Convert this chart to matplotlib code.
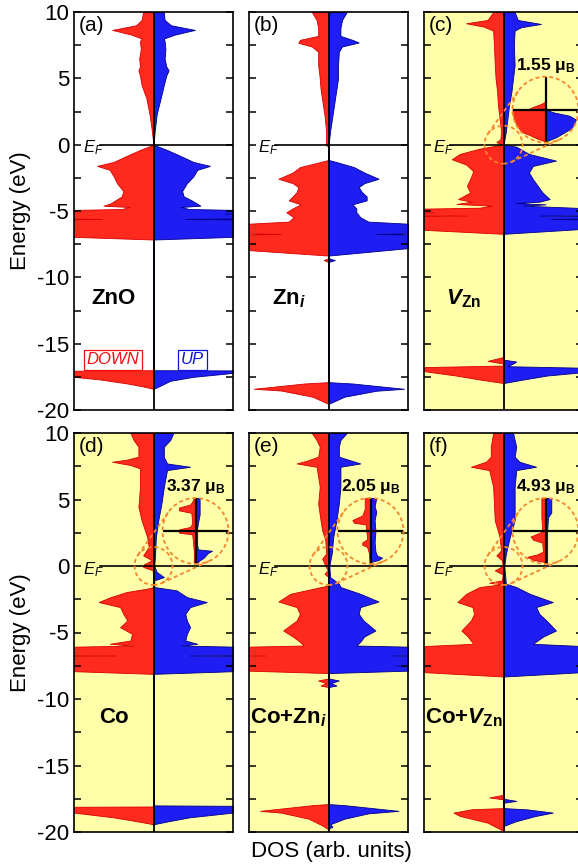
import numpy as np
import matplotlib.pyplot as plt
from matplotlib.patches import Circle
from matplotlib.lines import Line2D
from matplotlib.ticker import MultipleLocator
from matplotlib.transforms import IdentityTransform

plt.rcParams['font.family'] = ['Liberation Sans', 'DejaVu Sans']
plt.rcParams['axes.unicode_minus'] = False
plt.rcParams['mathtext.fontset'] = 'custom'
plt.rcParams['mathtext.rm'] = 'Liberation Sans'
plt.rcParams['mathtext.it'] = 'Liberation Sans:italic'
plt.rcParams['mathtext.bf'] = 'Liberation Sans:bold'
plt.rcParams['mathtext.bfit'] = 'Liberation Sans:italic:bold'

# DOS curves: (energy eV, DOS arb.) ; values > 1 run off the panel
a_dn = [(10, .13), (9.4, .15), (9.0, .22), (8.65, .52), (8.3, .28), (8.0, .15), (7.8, .17), (7.2, .16),
        (6.5, .18), (5.9, .17), (5.6, .19), (5.2, .17), (4.5, .15), (3.5, .09), (2.3, .05), (1.0, .02),
        (0.0, 0), (-0.4, .17), (-0.85, .34), (-1.3, .5), (-1.6, .71), (-1.9, .55), (-2.4, .5), (-2.9, .46),
        (-3.5, .38), (-3.9, .40), (-4.2, .48), (-4.45, .55), (-4.6, .63), (-4.7, .3), (-4.85, .4),
        (-4.95, 1.3), (-5.55, 1.3), (-5.6, .65), (-5.65, 1.3), (-6.95, 1.0), (-7.15, 0), (-17.0, 0),
        (-17.05, 1.3), (-17.45, 1.3), (-17.5, 1.0), (-17.7, .67), (-18.0, .33), (-18.2, .15), (-18.4, 0)]
a_up = [(10, .13), (9.4, .14), (9.0, .22), (8.65, .52), (8.3, .27), (8.0, .13), (7.8, .14), (7.2, .15),
        (6.5, .14), (5.9, .16), (5.6, .19), (5.2, .16), (4.5, .13), (3.5, .09), (2.3, .04), (1.0, .015),
        (0.0, 0), (-0.4, .17), (-0.85, .34), (-1.3, .5), (-1.6, .71), (-1.9, .55), (-2.4, .5), (-2.9, .42),
        (-3.5, .36), (-3.9, .38), (-4.2, .48), (-4.45, .55), (-4.6, .59), (-4.7, .34), (-4.85, .45),
        (-4.95, 1.3), (-5.15, 1.3), (-5.2, .9), (-5.25, 1.3), (-5.55, 1.3), (-5.6, .4), (-5.65, 1.3),
        (-6.95, 1.0), (-7.15, 0), (-17.0, 0), (-17.02, 1.3), (-17.15, 1.3), (-17.2, 1.0), (-17.3, .84),
        (-17.5, .5), (-17.8, .21), (-18.3, .04), (-18.4, 0)]

b_dn = [(10, .21), (9.4, .15), (8.8, .13), (8.2, .13), (7.9, .36), (7.68, .38), (7.4, .21), (7.0, .13),
        (6.0, .13), (5.0, .11), (4.2, .1), (3.4, .08), (2.2, .05), (1.0, .03), (0.2, .03), (0.0, .04),
        (-0.15, 0), (-1.15, 0), (-1.31, .1), (-1.69, .36), (-2.1, .45), (-2.57, .63), (-2.9, .45),
        (-3.2, .38), (-3.58, .4), (-3.9, .45), (-4.2, .5), (-4.5, .35), (-4.8, .45), (-5.1, .53),
        (-5.47, .44), (-5.8, .5), (-6.05, 1.3), (-6.65, 1.3), (-6.73, .6), (-6.8, 1.3), (-7.95, 1.0),
        (-8.36, 0), (-8.55, 0), (-8.7, .06), (-8.85, 0), (-17.9, 0), (-18.0, .3), (-18.4, .94),
        (-18.53, .6), (-19.0, .2), (-19.54, 0)]
b_up = [(10, .23), (9.4, .17), (8.8, .15), (8.2, .15), (7.9, .3), (7.7, .38), (7.4, .17), (7.0, .13),
        (6.0, .12), (5.0, .12), (4.2, .1), (3.4, .08), (2.2, .05), (1.0, .02), (0.2, .005), (0.0, 0),
        (-1.15, 0), (-1.31, .1), (-1.69, .32), (-2.1, .45), (-2.57, .63), (-2.9, .45), (-3.2, .38),
        (-3.58, .42), (-3.9, .48), (-4.2, .48), (-4.5, .3), (-4.8, .35), (-5.1, .35), (-5.47, .4),
        (-5.8, .5), (-6.05, 1.3), (-6.65, 1.3), (-6.73, .6), (-6.8, 1.3), (-7.8, 1.0), (-8.36, 0),
        (-8.55, 0), (-8.7, .08), (-8.85, 0), (-17.9, 0), (-18.0, .3), (-18.4, .95), (-18.55, .6),
        (-19.0, .2), (-19.54, 0)]

c_dn = [(10, .13), (9.4, .2), (9.15, .47), (8.9, .25), (8.6, .13), (7.5, .12), (6.0, .11), (5.0, .1),
        (4.0, .08), (3.0, .07), (2.0, .05), (1.0, .03), (0.4, .04), (0.2, .09), (0.0, .02), (-0.3, .3),
        (-0.7, .55), (-1.1, .65), (-1.5, .47), (-2.0, .38), (-2.6, .42), (-3.1, .46), (-3.6, .42),
        (-4.1, .57), (-4.3, .4), (-4.47, .59), (-4.6, .15), (-4.75, .3), (-4.85, 1.3), (-5.05, 1.3),
        (-5.1, .88), (-5.15, 1.3), (-5.3, 1.3), (-5.35, .47), (-5.4, 1.3), (-6.42, 1.0), (-6.72, 0),
        (-16.0, 0), (-16.3, .2), (-16.5, 0), (-16.65, 0), (-16.8, 1.3), (-17.0, 1.3), (-17.07, 1.0),
        (-17.4, .6), (-17.7, .3), (-17.97, 0)]
c_up = [(10, .14), (9.4, .18), (9.1, .47), (8.85, .22), (8.6, .14), (7.5, .13), (6.0, .14), (5.0, .12),
        (4.0, .1), (3.0, .07), (2.0, .05), (1.0, .03), (0.0, 0), (-0.15, .16), (-0.7, .32), (-1.2, .66),
        (-1.6, .37), (-2.1, .32), (-2.6, .37), (-3.1, .43), (-3.6, .49), (-4.1, .58), (-4.3, .45),
        (-4.4, .15), (-4.5, .53), (-4.6, .25), (-4.85, 1.3), (-5.3, 1.3), (-5.35, .45), (-5.4, 1.3),
        (-5.55, 1.3), (-5.6, .6), (-5.65, 1.3), (-6.35, 1.0), (-6.72, 0), (-16.2, 0), (-16.35, .16),
        (-16.5, .12), (-16.7, .05), (-16.85, 1.3), (-17.07, 1.3), (-17.15, 1.0), (-17.4, .55),
        (-17.7, .25), (-17.97, 0)]

d_dn = [(10, .29), (9.47, .25), (8.97, .19), (8.22, .19), (8.0, .33), (7.84, .52), (7.59, .29),
        (7.34, .17), (5.95, .17), (4.45, .19), (3.44, .15), (2.19, .08), (1.43, .06), (0.8, .13),
        (0.43, .02), (0.13, .12), (-0.07, .13), (-0.32, .01), (-1.58, 0), (-1.7, .08), (-1.96, .34),
        (-2.34, .54), (-2.71, .69), (-3.09, .42), (-3.6, .38), (-4.1, .33), (-4.6, .42), (-5.1, .27),
        (-5.6, .29), (-5.85, .55), (-5.98, .25), (-6.1, 1.3), (-6.68, 1.3), (-6.73, .48), (-6.78, 1.3),
        (-7.91, 1.0), (-8.11, 0), (-18.08, 0), (-18.11, 1.3), (-18.45, 1.3), (-18.54, 1.0), (-18.9, .5),
        (-19.2, .2), (-19.42, 0)]
d_up = [(10, .25), (9.47, .21), (8.97, .13), (8.22, .13), (7.71, .17), (7.46, .46), (7.21, .17),
        (5.95, .13), (4.7, .1), (3.44, .06), (2.19, .03), (0.93, .02), (0.0, .01), (-0.45, .04),
        (-0.83, .13), (-1.08, .01), (-1.58, .01), (-1.83, .29), (-2.34, .42), (-2.71, .67), (-3.09, .46),
        (-3.6, .4), (-4.1, .42), (-4.6, .46), (-5.1, .42), (-5.6, .4), (-5.85, .55), (-5.98, .35),
        (-6.1, 1.3), (-6.68, 1.3), (-6.73, .46), (-6.78, 1.3), (-7.43, 1.3), (-7.48, .9), (-7.53, 1.3),
        (-7.91, 1.0), (-8.11, 0), (-18.0, 0), (-18.04, 1.3), (-18.45, 1.3), (-18.54, 1.0), (-18.9, .45),
        (-19.2, .18), (-19.42, 0)]

e_dn = [(10, .21), (9.47, .15), (8.97, .11), (8.22, .13), (7.92, .27), (7.71, .4), (7.46, .15),
        (5.95, .11), (4.7, .13), (3.44, .1), (2.69, .08), (1.93, .04), (0.93, .03), (0.55, .08),
        (0.3, .06), (0.0, .04), (-0.32, .01), (-0.58, .05), (-0.83, 0), (-1.46, 0), (-1.71, .19),
        (-2.09, .48), (-2.67, .63), (-3.09, .4), (-3.6, .36), (-4.1, .4), (-4.85, .57), (-5.3, .45),
        (-5.7, .36), (-5.98, .31), (-6.1, 1.3), (-6.68, 1.3), (-6.73, .8), (-6.78, 1.3), (-7.87, 1.0),
        (-8.05, 0), (-8.45, 0), (-8.61, .13), (-8.8, .03), (-8.99, .1), (-9.1, 0), (-17.9, 0),
        (-17.98, .2), (-18.41, .86), (-18.54, .6), (-19.0, .25), (-19.5, .08), (-19.8, 0)]
e_up = [(10, .23), (9.47, .15), (8.97, .13), (8.22, .13), (7.71, .4), (7.46, .15), (5.95, .15),
        (4.7, .13), (3.44, .1), (2.19, .06), (0.93, .04), (0.0, .01), (-0.83, .02), (-1.33, .13),
        (-1.58, .15), (-2.09, .4), (-2.67, .63), (-3.09, .4), (-3.6, .38), (-4.1, .44), (-4.85, .59),
        (-5.3, .45), (-5.7, .4), (-5.98, .35), (-6.1, 1.3), (-6.68, 1.3), (-6.73, .8), (-6.78, 1.3),
        (-7.43, 1.3), (-7.48, .85), (-7.53, 1.3), (-7.87, 1.0), (-8.05, 0), (-8.45, 0), (-8.61, .13),
        (-8.8, .03), (-8.99, .1), (-9.1, 0), (-17.9, 0), (-17.98, .2), (-18.41, .88), (-18.6, .5),
        (-19.0, .2), (-19.42, .02), (-19.6, .05), (-19.75, 0)]

f_dn = [(10, .13), (8.97, .16), (8.22, .16), (7.84, .22), (7.46, .41), (7.21, .18), (5.95, .13),
        (3.44, .11), (2.19, .05), (1.18, .03), (0.8, .09), (0.43, .02), (0.0, .01), (-0.33, .11),
        (-0.63, .01), (-1.08, .02), (-1.26, .18), (-1.38, .03), (-1.58, .3), (-2.09, .47), (-2.71, .58),
        (-3.09, .39), (-3.6, .37), (-4.1, .41), (-4.85, .53), (-5.3, .45), (-5.85, .38), (-6.1, 1.3),
        (-7.98, 1.0), (-8.31, 0), (-17.2, 0), (-17.4, .18), (-17.55, 0), (-18.2, 0), (-18.29, .4),
        (-18.54, .63), (-18.79, .55), (-19.3, .2), (-19.92, 0)]
f_up = [(10, .12), (8.97, .16), (8.22, .14), (7.84, .2), (7.46, .41), (7.21, .16), (5.95, .14),
        (3.44, .14), (2.19, .08), (0.93, .03), (0.0, .01), (-1.33, .03), (-1.58, .16), (-2.09, .33),
        (-2.71, .62), (-3.09, .41), (-3.6, .45), (-4.1, .54), (-4.85, .66), (-5.3, .5), (-5.85, .37),
        (-6.1, 1.3), (-7.98, 1.0), (-8.31, 0), (-17.5, 0), (-17.66, .16), (-17.8, 0), (-18.2, 0),
        (-18.3, .3), (-18.54, .62), (-18.8, .4), (-19.2, .15), (-19.55, 0)]

# zoomed DOS around E_F shown in the circles (energy window +-1.2 eV)
c_zoom_dn = [(1.2, 0), (0.3, 0), (0.26, .02), (0.2, .06), (0.1, .15), (0.02, .21), (-0.02, .6),
             (-0.6, .6), (-0.67, .4), (-0.9, .21), (-1.05, .1), (-1.16, 0)]
c_zoom_up = [(1.2, 0), (0.0, 0), (-0.1, .1), (-0.22, .29), (-0.41, .4), (-0.55, .4), (-0.7, .3),
             (-0.86, .21), (-1.0, .13), (-1.16, 0)]
d_zoom_dn = [(1.2, .02), (1.12, .03), (0.97, .06), (0.85, .2), (0.75, .2), (0.66, .05), (0.3, .04),
             (0.15, .06), (0.06, .2), (-0.06, .2), (-0.12, .04), (-0.4, .03), (-0.75, .02), (-1.2, .02)]
d_zoom_up = [(1.2, .05), (0.6, .05), (0.3, .03), (0.1, .02), (-0.5, .02), (-0.67, .03), (-0.72, .2),
             (-0.8, .15), (-0.97, .1), (-1.09, .04), (-1.2, .01)]
e_zoom_dn = [(1.2, .07), (0.8, .07), (0.56, .1), (0.4, .22), (0.3, .2), (0.24, .06), (0.0, .05),
             (-0.3, .04), (-0.42, .1), (-0.5, .1), (-0.58, .04), (-0.8, .02), (-1.2, .01)]
e_zoom_up = [(1.2, .07), (0.9, .05), (0.7, .07), (0.4, .05), (0.0, .06), (-0.4, .05), (-0.75, .06),
             (-0.9, .08), (-0.97, .14), (-1.05, .1), (-1.13, 0)]
f_zoom_dn = [(1.2, .05), (0.5, .05), (0.1, .04), (-0.05, .06), (-0.2, .18), (-0.32, .15), (-0.42, .04),
             (-0.75, .03), (-0.85, .1), (-0.94, .22), (-1.05, .15), (-1.13, 0)]
f_zoom_up = [(1.2, .07), (0.67, .07), (0.5, .03), (0.0, .02), (-0.8, .02), (-1.13, .02)]

panel_tags = ['(a)', '(b)', '(c)', '(d)', '(e)', '(f)']
panel_names = ['ZnO', r'Zn$_{\mathbfit{i}}$', r'$\mathbfit{V}_{\mathbf{Zn}}$',
               'Co', r'Co+Zn$_{\mathbfit{i}}$', r'Co+$\mathbfit{V}_{\mathbf{Zn}}$']
moments = [None, None, '1.55', '3.37', '2.05', '4.93']

RED, RED_EDGE = '#FF2A1E', '#D80000'
BLUE, BLUE_EDGE = '#1E1EF2', '#00008A'
YELLOW = '#FFFFAA'
ORANGE = '#F2872E'

W, H = 578, 868
fig = plt.figure(figsize=(W / 100, H / 100), dpi=100)


def px_axes(left, top, w, h):
    return fig.add_axes([left / W, 1 - (top + h) / H, w / W, h / H])


def fill_dos(ax, dn, up, clip=None):
    e_dn, v_dn = np.array(dn).T
    e_up, v_up = np.array(up).T
    arts = [ax.fill_betweenx(e_dn, 0, -v_dn, facecolor=RED, edgecolor=RED_EDGE, lw=0.6),
            ax.fill_betweenx(e_up, 0, v_up, facecolor=BLUE, edgecolor=BLUE_EDGE, lw=0.6)]
    if clip is not None:
        for a in arts:
            a.set_clip_path(clip)


def tangent_pts(c1, r1, c2, r2, sign):
    d = np.array(c2) - np.array(c1)
    L = np.hypot(*d)
    th = np.arctan2(d[1], d[0])
    al = np.arccos((r2 - r1) / L)
    n = np.array([np.cos(th + sign * al), np.sin(th + sign * al)])
    return np.array(c1) - r1 * n, np.array(c2) - r2 * n


def add_zoom(ax, dn, up, moment):
    r1, r2 = 19, 33
    c1 = ax.transData.transform((0, 0))
    c2 = c1 + np.array([42, 35])
    dash = (0, (2.2, 1.6))
    fig.add_artist(Circle(c1, r1, transform=IdentityTransform(), fill=False,
                          ec=ORANGE, lw=1.3, ls=dash, zorder=5))
    fig.add_artist(Circle(c2, r2, transform=IdentityTransform(), fill=False,
                          ec=ORANGE, lw=1.3, ls=dash, zorder=5))
    for s in (1, -1):
        p1, p2 = tangent_pts(c1, r1, c2, r2, s)
        fig.add_artist(Line2D([p1[0], p2[0]], [p1[1], p2[1]], transform=IdentityTransform(),
                              color=ORANGE, lw=1.3, ls=dash, zorder=5))
    axz = fig.add_axes([(c2[0] - r2) / W, (c2[1] - r2) / H, 2 * r2 / W, 2 * r2 / H])
    axz.set_xlim(-0.4, 0.4)
    axz.set_ylim(-1.2, 1.2)
    axz.axis('off')
    clip = Circle((0.5, 0.5), 0.5, transform=axz.transAxes)
    fill_dos(axz, dn, up, clip)
    for ln in (axz.axhline(0, color='k', lw=1.6), axz.axvline(0, color='k', lw=1.6)):
        ln.set_clip_path(clip)
    fig.text(c2[0] / W, (c2[1] + 44) / H, moment + r' μ$_{\mathbf{B}}$', ha='center', va='center',
             fontsize=12.5, fontweight='bold')


dos = [(a_dn, a_up), (b_dn, b_up), (c_dn, c_up), (d_dn, d_up), (e_dn, e_up), (f_dn, f_up)]
zooms = [None, None, (c_zoom_dn, c_zoom_up), (d_zoom_dn, d_zoom_up),
         (e_zoom_dn, e_zoom_up), (f_zoom_dn, f_zoom_up)]
lefts = [74, 249, 424]
rows = [(12, 398), (433, 399)]

for i in range(6):
    row, col = divmod(i, 3)
    top, h = rows[row]
    ax = px_axes(lefts[col], top, 159, h)
    ax.set_xlim(-1, 1)
    ax.set_ylim(-20, 10)
    if i >= 2:
        ax.set_facecolor(YELLOW)
    fill_dos(ax, *dos[i])
    ax.axvline(0, color='k', lw=1.3)
    ax.axhline(0, xmin=0.165, xmax=1, color='k', lw=1.2)
    ax.text(0.12, -0.25, r'$E_F$', transform=ax.get_yaxis_transform(), ha='center', va='center',
            fontsize=12)
    ax.text(0.03, 0.99, panel_tags[i], transform=ax.transAxes, ha='left', va='top', fontsize=15)
    ax.text(0.25, -11.6 if row == 0 else -11.4, panel_names[i], transform=ax.get_yaxis_transform(),
            ha='center', va='center', fontsize=16, fontweight='bold')
    ax.yaxis.set_major_locator(MultipleLocator(5))
    ax.yaxis.set_minor_locator(MultipleLocator(2.5))
    ax.set_xticks([])
    ax.tick_params(axis='y', which='both', direction='in', left=True, right=True,
                   length=5, width=1.1, labelsize=16, labelleft=(col == 0))
    for sp in ax.spines.values():
        sp.set_linewidth(1.2)
    if i == 0:
        ax.text(0.245, -16.2, 'DOWN', transform=ax.get_yaxis_transform(), ha='center', va='center',
                fontsize=12, style='italic', color='#F01010',
                bbox=dict(boxstyle='square,pad=0.15', fc='none', ec='#F01010', lw=0.9))
        ax.text(0.745, -16.2, 'UP', transform=ax.get_yaxis_transform(), ha='center', va='center',
                fontsize=12, style='italic', color='#1010E0',
                bbox=dict(boxstyle='square,pad=0.15', fc='none', ec='#1010E0', lw=0.9))
    if col == 0:
        fig.text(0.036, 1 - (top + h / 2) / H, 'Energy (eV)', rotation=90, ha='center', va='center',
                 fontsize=16)
    if zooms[i] is not None:
        add_zoom(ax, *zooms[i], moments[i])

fig.text(331 / W, 1 - 851 / H, 'DOS (arb. units)', ha='center', va='center', fontsize=16)

fig.savefig('out.png', dpi=100)
